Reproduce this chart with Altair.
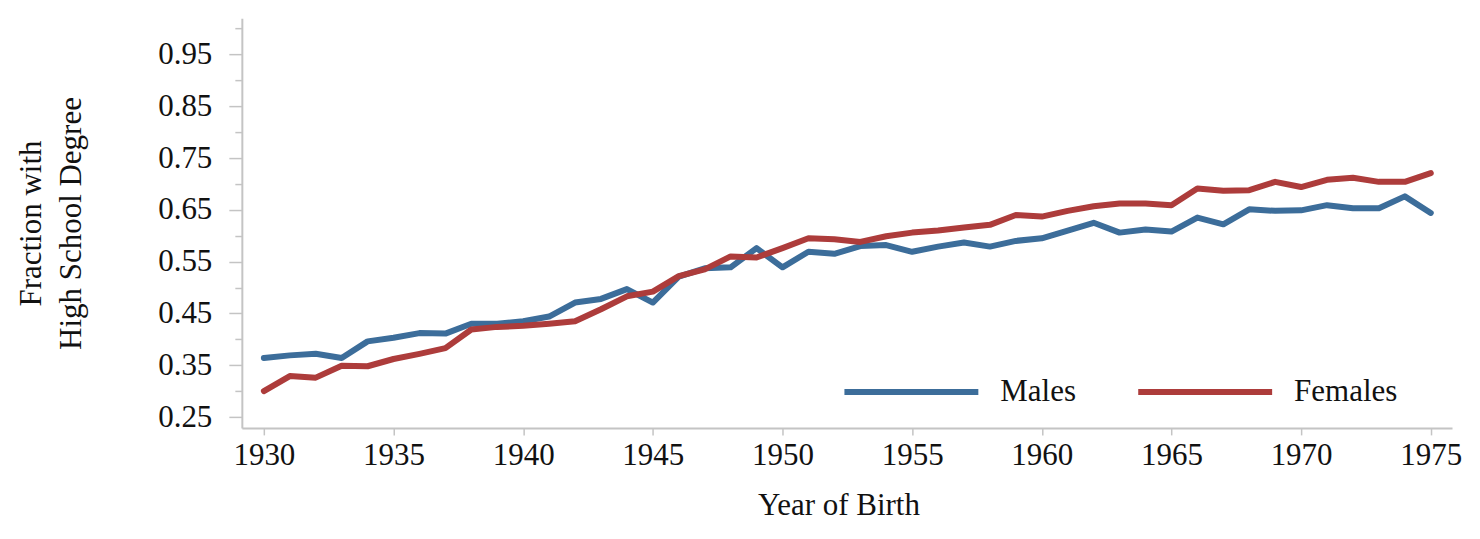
import altair as alt
import pandas as pd

years = list(range(1930, 1976))
males = [0.364, 0.369, 0.372, 0.364, 0.396, 0.403, 0.412, 0.411, 0.430, 0.430,
         0.435, 0.444, 0.471, 0.478, 0.497, 0.471, 0.521, 0.537, 0.539, 0.576,
         0.539, 0.569, 0.565, 0.580, 0.582, 0.569, 0.579, 0.587, 0.579, 0.590,
         0.595, 0.610, 0.625, 0.606, 0.612, 0.608, 0.635, 0.622, 0.651, 0.648,
         0.649, 0.659, 0.653, 0.653, 0.676, 0.644]
females = [0.300, 0.329, 0.326, 0.349, 0.348, 0.362, 0.372, 0.383, 0.419, 0.424,
           0.426, 0.430, 0.435, 0.458, 0.483, 0.492, 0.522, 0.535, 0.560, 0.558,
           0.576, 0.595, 0.593, 0.588, 0.599, 0.606, 0.610, 0.616, 0.621, 0.640,
           0.637, 0.648, 0.657, 0.662, 0.662, 0.659, 0.691, 0.687, 0.688, 0.704,
           0.694, 0.708, 0.712, 0.704, 0.704, 0.721]
series = ["Males", "Females"]
colors = ["#3c6d9a", "#ad3c3b"]
x_ticks = list(range(1930, 1976, 5))
y_ticks = [round(0.25 + 0.05 * i, 2) for i in range(16)]

df = pd.DataFrame({
    "year": years * 2,
    "value": males + females,
    "group": ["Males"] * len(years) + ["Females"] * len(years),
})

FONT = "Liberation Serif"
AX = "#c4c4c4"
major = "round(datum.value*100) % 10 == 5"

chart = alt.Chart(df).mark_line(strokeWidth=6, strokeCap="round", strokeJoin="round").encode(
    x=alt.X("year:Q",
            scale=alt.Scale(domain=[1929.15, 1975.82], nice=False, zero=False),
            axis=alt.Axis(values=x_ticks, format="d", title="Year of Birth",
                          tickSize=7, labelPadding=6, titlePadding=20, titleX=597)),
    y=alt.Y("value:Q",
            scale=alt.Scale(domain=[0.229, 1.02], nice=False, zero=False),
            axis=alt.Axis(values=y_ticks,
                          labelExpr="(" + major + ") ? format(datum.value, '.2f') : ''",
                          tickSize={"condition": {"test": major, "value": 13}, "value": 7},
                          labelPadding=17, titlePadding=70,
                          title=["Fraction with", "High School Degree"],
                          titleLineHeight=40)),
    color=alt.Color("group:N", sort=series,
                    scale=alt.Scale(domain=series, range=colors),
                    legend=alt.Legend(title=None, orient="none", direction="horizontal",
                                      legendX=600, legendY=304,
                                      symbolType="stroke", symbolSize=17956,
                                      symbolStrokeWidth=6, labelOffset=19,
                                      columnPadding=50, padding=0,
                                      labelFontSize=31, labelFont=FONT,
                                      labelColor="#111111")),
).properties(
    width=1211, height=410,
    autosize=alt.AutoSizeParams(type="none"),
    padding={"left": 234, "top": 10, "right": 20, "bottom": 100},
).configure_view(stroke=None).configure_axis(
    grid=False,
    domainColor=AX, domainWidth=2,
    tickColor=AX, tickWidth=1.5,
    labelFont=FONT, labelFontSize=31, labelColor="#111111",
    titleFont=FONT, titleFontSize=31, titleFontWeight="normal", titleColor="#111111",
)

chart.save("out.html", embed_options={"renderer": "svg", "actions": False})
